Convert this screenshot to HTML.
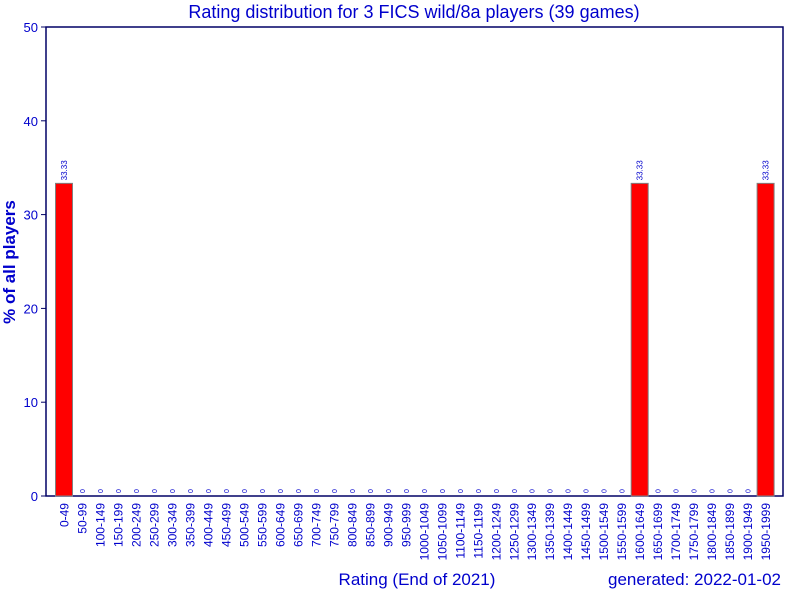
<!DOCTYPE html>
<html><head><meta charset="utf-8"><style>
body{margin:0;background:#fff;}
svg{display:block;font-family:"Liberation Sans",sans-serif;}
</style></head><body>
<svg id="chart" width="790" height="590">
<text x="414" y="18" text-anchor="middle" font-size="18" fill="#0000cc">Rating distribution for 3 FICS wild/8a players (39 games)</text>
<text transform="translate(15,262) rotate(-90)" text-anchor="middle" font-size="17" font-weight="bold" fill="#0000cc">% of all players</text>
<text x="417" y="585" text-anchor="middle" font-size="17" fill="#0000cc">Rating (End of 2021)</text>
<text x="781" y="585" text-anchor="end" font-size="17" fill="#0000cc">generated: 2022-01-02</text>
<rect x="46" y="27" width="737" height="469" fill="none" stroke="#000066" stroke-width="1.5"/>
<g id="yaxis"></g><g id="bars"></g><g id="xlabels"></g>
</svg>
<script>
const categories=["0-49","50-99","100-149","150-199","200-249","250-299","300-349","350-399","400-449","450-499","500-549","550-599","600-649","650-699","700-749","750-799","800-849","850-899","900-949","950-999","1000-1049","1050-1099","1100-1149","1150-1199","1200-1249","1250-1299","1300-1349","1350-1399","1400-1449","1450-1499","1500-1549","1550-1599","1600-1649","1650-1699","1700-1749","1750-1799","1800-1849","1850-1899","1900-1949","1950-1999"];
const values=[33.33,0,0,0,0,0,0,0,0,0,0,0,0,0,0,0,0,0,0,0,0,0,0,0,0,0,0,0,0,0,0,0,33.33,0,0,0,0,0,0,33.33];
const yTicks=[0,10,20,30,40,50];
const NS="http://www.w3.org/2000/svg";
const y=v=>496-v*(469/50);
const xc=i=>64+i*17.99;
function mk(t,a,p){const e=document.createElementNS(NS,t);for(const k in a)e.setAttribute(k,a[k]);p.appendChild(e);return e;}
const ya=document.getElementById('yaxis');
yTicks.forEach(t=>{
 const l=mk('line',{x1:41,x2:46,y1:y(t),y2:y(t),stroke:'#000066'},ya);
 
 
 const tx=mk('text',{x:38,y:y(t)+5,'text-anchor':'end','font-size':13,fill:'#0000cc'},ya);
 tx.textContent=t;
 
 
});
const bg=document.getElementById('bars'),xl=document.getElementById('xlabels');
categories.forEach((c,i)=>{
 const v=values[i],cx=xc(i);
 if(v>0){
  const r=mk('rect',{x:cx-8.5,y:y(v),width:17,height:496-y(v),fill:'#ff0000',stroke:'#808080'},bg);
  
  
 }
 const vl=mk('text',{transform:`translate(${cx+3},${y(v)-3}) rotate(-90)`,'font-size':v>0?8:7,fill:'#0000cc'},bg);
 vl.textContent=v>0?v.toFixed(2):'0';
 
 
 const lb=mk('text',{transform:`translate(${cx+4.5},503) rotate(-90)`,'text-anchor':'end','font-size':12,fill:'#0000cc'},xl);
 lb.textContent=c;
 
 
});
</script>
</body></html>
